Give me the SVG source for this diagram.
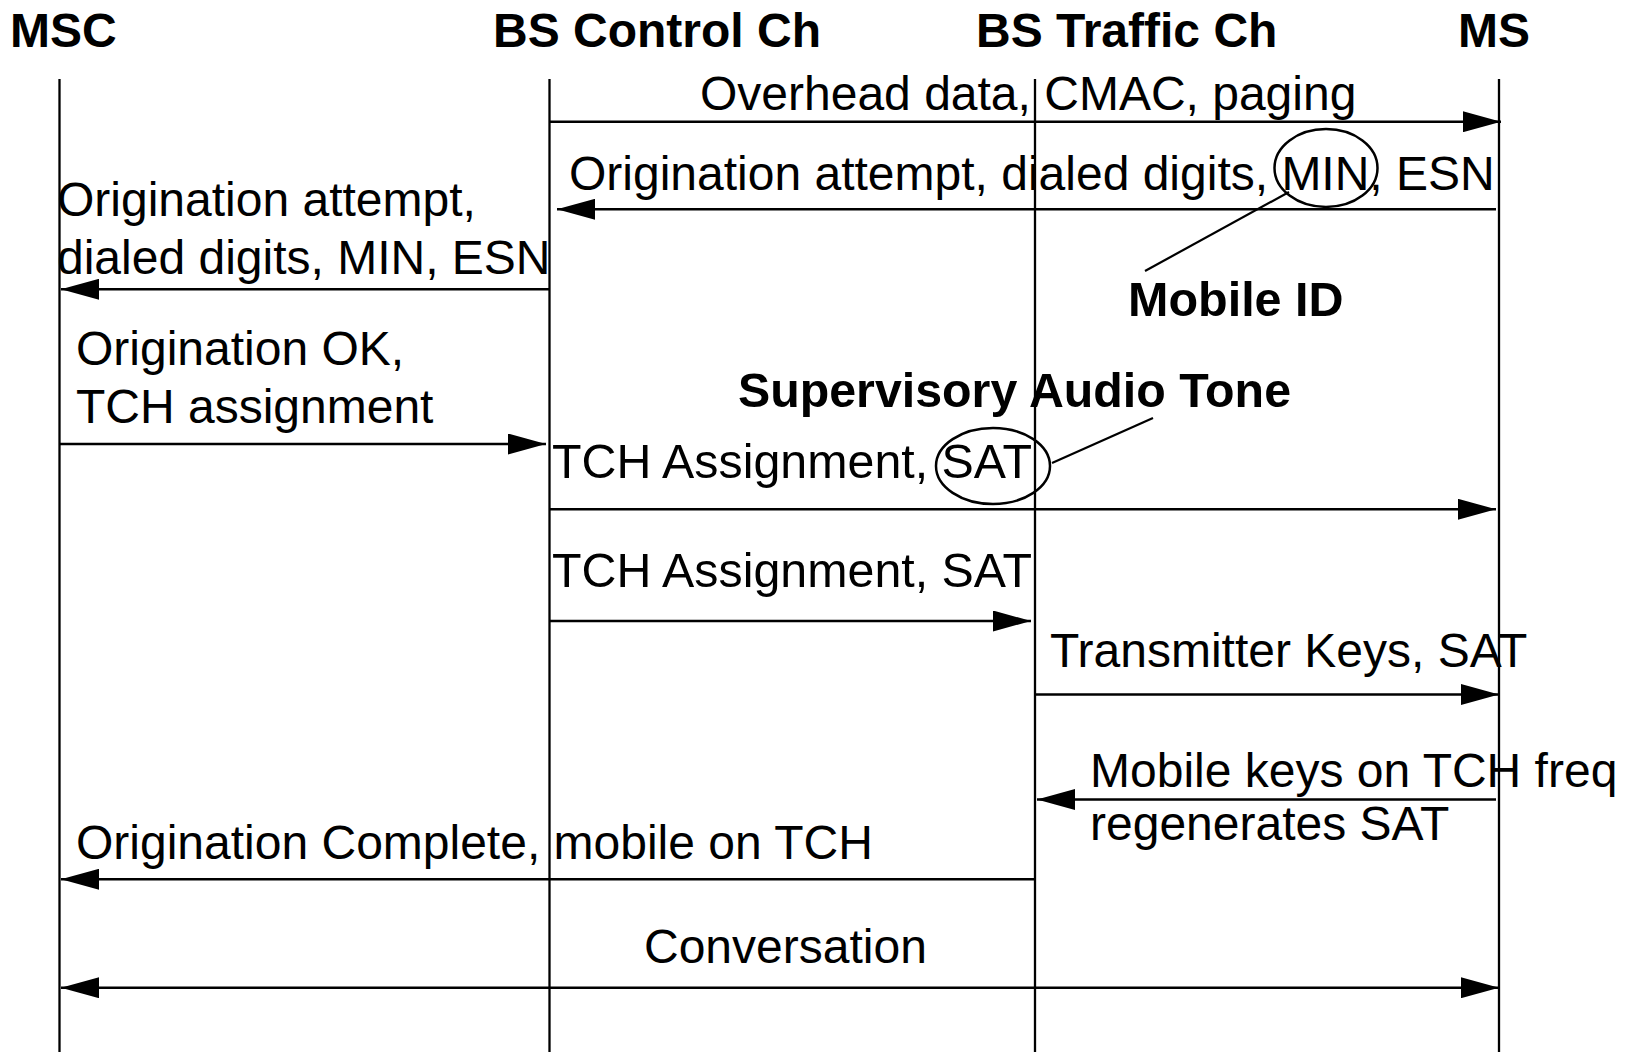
<svg xmlns="http://www.w3.org/2000/svg" width="1639" height="1052" viewBox="0 0 1639 1052">
  <style>
    .hdr { font-family: "Liberation Sans", Arial, sans-serif; font-weight: bold; font-size: 48px; fill: #000; }
    .lbl { font-family: "Liberation Sans", Arial, sans-serif; font-size: 48px; fill: #000; }
    .note { font-family: "Liberation Sans", Arial, sans-serif; font-weight: bold; font-size: 48.5px; fill: #000; }
    .life { stroke: #000; stroke-width: 2.3; fill: none; }
    .msg { stroke: #000; stroke-width: 2.6; fill: none; }
    .msg.fwd { marker-end: url(#head); }
    .msg.both { marker-start: url(#head); marker-end: url(#head); }
    .lead { stroke: #000; stroke-width: 2.2; fill: none; }
    .ring { stroke: #000; stroke-width: 2.5; fill: none; }
  </style>
  <defs>
    <marker id="head" markerUnits="userSpaceOnUse" markerWidth="38" markerHeight="21" refX="38" refY="10.5" orient="auto-start-reverse" viewBox="0 0 38 21">
      <path d="M0,0 L38,10.5 L0,21 Z" fill="#000"/>
    </marker>
  </defs>
  <rect width="1639" height="1052" fill="#fff"/>

  <!-- Participants with their lifelines -->
  <g id="msc">
    <text class="hdr" x="10" y="46.5">MSC</text>
    <line class="life" x1="59.5" y1="79" x2="59.5" y2="1052"/>
  </g>
  <g id="bs-control">
    <text class="hdr" x="493" y="46.5">BS Control Ch</text>
    <line class="life" x1="549.5" y1="79" x2="549.5" y2="1052"/>
  </g>
  <g id="bs-traffic">
    <text class="hdr" x="976" y="46.5">BS Traffic Ch</text>
    <line class="life" x1="1035" y1="79" x2="1035" y2="1052"/>
  </g>
  <g id="ms">
    <text class="hdr" x="1458" y="46.5">MS</text>
    <line class="life" x1="1499" y1="79" x2="1499" y2="1052"/>
  </g>

  <!-- Message labels -->
  <g id="labels">
    <text class="lbl" x="700" y="110">Overhead data, CMAC, paging</text>
    <text class="lbl" x="569" y="190">Origination attempt, dialed digits, MIN, ESN</text>
    <text class="lbl" x="57" y="216">Origination attempt,</text>
    <text class="lbl" x="57" y="274">dialed digits, MIN, ESN</text>
    <text class="lbl" x="76" y="365">Origination OK,</text>
    <text class="lbl" x="76" y="423">TCH assignment</text>
    <text class="lbl" x="552" y="478" textLength="480" lengthAdjust="spacingAndGlyphs">TCH Assignment, SAT</text>
    <text class="lbl" x="552" y="587" textLength="480" lengthAdjust="spacingAndGlyphs">TCH Assignment, SAT</text>
    <text class="lbl" x="1050" y="667">Transmitter Keys, SAT</text>
    <text class="lbl" x="1090" y="787">Mobile keys on TCH freq</text>
    <text class="lbl" x="1090" y="840">regenerates SAT</text>
    <text class="lbl" x="76" y="859">Origination Complete, mobile on TCH</text>
    <text class="lbl" x="644" y="963">Conversation</text>
  </g>

  <!-- Callouts -->
  <g id="mobile-id">
    <ellipse class="ring" cx="1326" cy="168" rx="51.5" ry="39"/>
    <line class="lead" x1="1289" y1="192" x2="1145" y2="271"/>
    <text class="note" x="1128" y="316">Mobile ID</text>
  </g>
  <g id="sat-tone">
    <ellipse class="ring" cx="993" cy="466" rx="57" ry="38"/>
    <line class="lead" x1="1052" y1="463" x2="1153" y2="418"/>
    <text class="note" x="738" y="407" textLength="553" lengthAdjust="spacingAndGlyphs">Supervisory Audio Tone</text>
  </g>

  <!-- Message arrows -->
  <g id="connectors">
    <line class="msg fwd" x1="549.5" y1="121.7" x2="1501" y2="121.7"/>
    <line class="msg fwd" x1="1496" y1="209.3" x2="557" y2="209.3"/>
    <line class="msg fwd" x1="549.5" y1="289.3" x2="61" y2="289.3"/>
    <line class="msg fwd" x1="59.5" y1="444" x2="546" y2="444"/>
    <line class="msg fwd" x1="549.5" y1="509.3" x2="1496" y2="509.3"/>
    <line class="msg fwd" x1="549.5" y1="621" x2="1031" y2="621"/>
    <line class="msg fwd" x1="1035" y1="694.5" x2="1499" y2="694.5"/>
    <line class="msg fwd" x1="1496" y1="799.5" x2="1037" y2="799.5"/>
    <line class="msg fwd" x1="1035" y1="879.3" x2="61" y2="879.3"/>
    <line class="msg both" x1="61" y1="987.7" x2="1499" y2="987.7"/>
  </g>
</svg>
